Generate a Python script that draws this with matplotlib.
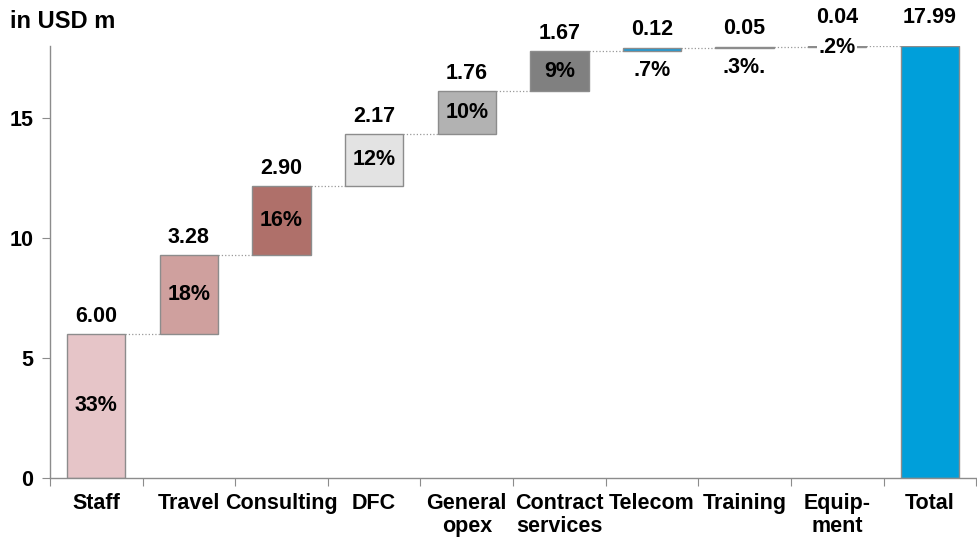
import numpy as np
import matplotlib.pyplot as plt

plt.rcParams['font.family'] = ['Liberation Sans', 'DejaVu Sans']
plt.rcParams['font.weight'] = 'bold'

# Cost breakdown, in USD m
categories = ['Staff', 'Travel', 'Consulting', 'DFC', 'General\nopex',
              'Contract\nservices', 'Telecom', 'Training', 'Equip-\nment', 'Total']
values = [6.00, 3.28, 2.90, 2.17, 1.76, 1.67, 0.12, 0.05, 0.04]
total = 17.99
value_labels = ['6.00', '3.28', '2.90', '2.17', '1.76', '1.67', '0.12', '0.05', '0.04', '17.99']
pct_labels = ['33%', '18%', '16%', '12%', '10%', '9%', '.7%', '.3%.', '.2%']

colors = ['#E6C5C8', '#CFA09E', '#AF706A', '#E3E3E3', '#B2B2B2', '#808080',
          '#1E9AD6', '#8A8A8A', '#8A8A8A', '#009FDA']
edge = '#8C8C8C'
fs = 15.5

fig = plt.figure(figsize=(9.78, 5.41), dpi=100)
ax = fig.add_axes([0.0511, 0.1165, 0.947, 0.7985])

x = np.arange(len(categories))
bottoms = np.concatenate([[0], np.cumsum(values)[:-1]])
heights = list(values) + [total]
bottoms = list(bottoms) + [0]
w = 0.63

ax.bar(x, heights, bottom=bottoms, width=w, color=colors, edgecolor=edge, linewidth=1, zorder=2)

# connectors between bars
tops = [b + h for b, h in zip(bottoms, heights)]
for i in range(len(categories) - 1):
    ax.plot([x[i] + w / 2, x[i + 1] - w / 2], [tops[i], tops[i]],
            color='#999999', linestyle=':', linewidth=0.9, zorder=1)

# value labels on top
val_offsets = [5, 5, 5, 5, 5, 5, 6, 6, 13, 13]
for i, lab in enumerate(value_labels):
    ax.annotate(lab, (x[i], tops[i]), xytext=(0, val_offsets[i]), textcoords='offset points',
                ha='center', va='bottom', fontsize=fs, fontweight='bold')

# percentage labels
for i, lab in enumerate(pct_labels):
    if values[i] > 1:
        ax.text(x[i], bottoms[i] + values[i] / 2, lab, ha='center', va='center',
                fontsize=fs, fontweight='bold')
    elif i == 8:
        ax.text(x[i], bottoms[i], lab, ha='center', va='center', fontsize=fs,
                fontweight='bold', zorder=3,
                bbox=dict(facecolor='white', edgecolor='none', pad=1.0))
    else:
        ax.annotate(lab, (x[i], bottoms[i]), xytext=(0, -6), textcoords='offset points',
                    ha='center', va='top', fontsize=fs, fontweight='bold')

ax.set_xlim(-0.5, len(categories) - 0.5)
ax.set_ylim(0, 18)
ax.set_yticks([0, 5, 10, 15])
ax.set_xticks(np.arange(-0.5, len(categories), 1.0))
ax.set_xticklabels([])
ax.set_xticks(x, minor=True)
ax.set_xticklabels(categories, minor=True, fontsize=fs, fontweight='bold', linespacing=1.1)
ax.tick_params(axis='x', which='minor', length=0, pad=11)
ax.tick_params(axis='x', which='major', length=6, color=edge, direction='out')
ax.tick_params(axis='y', length=6, color=edge, labelsize=fs, pad=6)
for t in ax.get_yticklabels():
    t.set_fontweight('bold')

for s in ['top', 'right']:
    ax.spines[s].set_visible(False)
for s in ['left', 'bottom']:
    ax.spines[s].set_color(edge)
    ax.spines[s].set_linewidth(1)

fig.text(0.01, 0.96, 'in USD m', fontsize=17, fontweight='bold', ha='left', va='center')

fig.savefig('out.png', dpi=100)
